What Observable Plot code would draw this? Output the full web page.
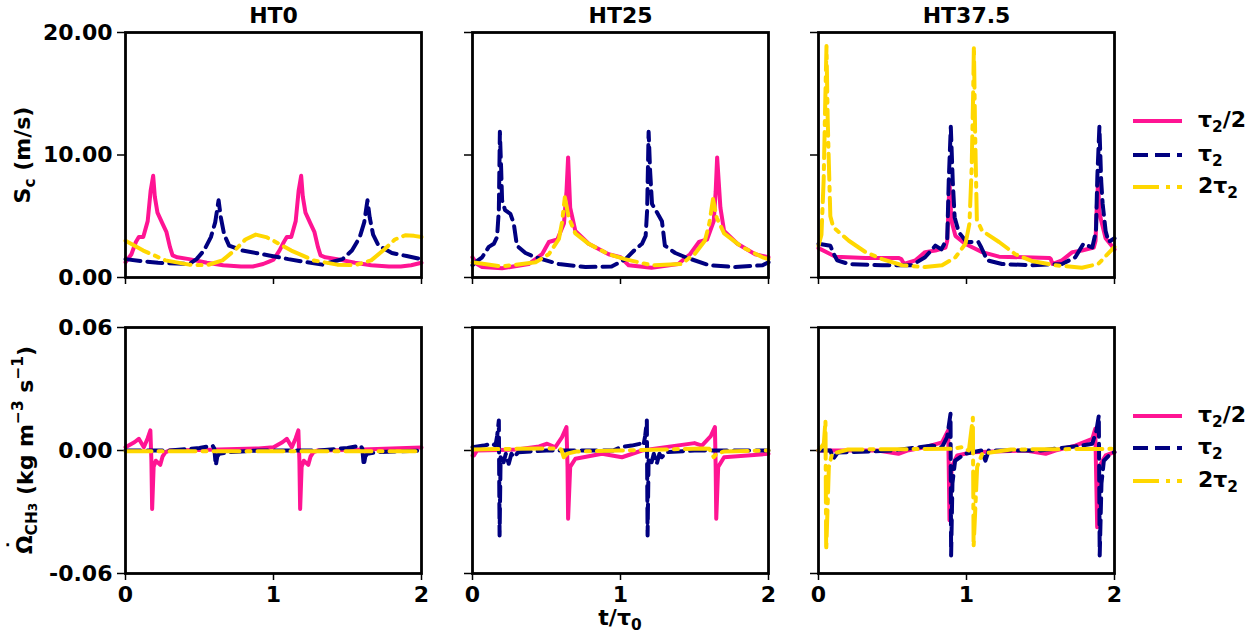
<!DOCTYPE html>
<html><head><meta charset="utf-8">
<script src="https://cdn.jsdelivr.net/npm/d3@7"></script>
<script src="https://cdn.jsdelivr.net/npm/@observablehq/plot@0.6"></script>
<style>
body{margin:0;background:#fff;}
#chart{position:relative;width:1260px;height:637px;font-family:"DejaVu Sans",sans-serif;font-weight:bold;color:#000;overflow:hidden;}
.panel{position:absolute;}
.panel svg{overflow:visible;}
.panel svg g[aria-label$="tick"] path, .panel svg .tick line{stroke-width:1.5px;}
.lbl{position:absolute;white-space:nowrap;font-size:22px;line-height:1;}
.sub{font-size:70%;vertical-align:-0.3em;}
.sup{font-size:70%;vertical-align:0.6em;}
.dotted{position:relative;display:inline-block;}
.dotted .dot{position:absolute;left:0;right:0;top:-0.42em;text-align:center;}
</style></head><body><div id="chart"></div><script>
// ---------- data ----------
const titles = ["HT0", "HT25", "HT37.5"];
const seriesNames = ["τ2/2", "τ2", "2τ2"];
const xTicks = [0, 1, 2];
const yTicksSc = [0, 10, 20];
const yTicksOm = [-0.06, 0, 0.06];

// S_c (m/s), HT0
const sc_ht0_half_t = [0, 0.04, 0.07, 0.09, 0.12, 0.15, 0.17, 0.187, 0.198, 0.216, 0.25, 0.277, 0.3, 0.318, 0.35, 0.43, 0.55, 0.66, 0.78, 0.86, 0.93, 0.97, 1.0, 1.04, 1.07, 1.09, 1.12, 1.15, 1.17, 1.187, 1.198, 1.216, 1.25, 1.277, 1.3, 1.318, 1.35, 1.43, 1.55, 1.66, 1.78, 1.86, 1.93, 2.0];
const sc_ht0_half_v = [1.25, 1.9, 2.9, 3.3, 3.3, 4.6, 7.1, 8.3, 6.6, 5.3, 4.4, 3.7, 2.5, 1.8, 1.65, 1.5, 1.2, 1.0, 0.9, 0.9, 1.1, 1.3, 1.45, 2.2, 2.9, 3.3, 3.3, 4.6, 7.1, 8.3, 6.6, 5.3, 4.4, 3.7, 2.5, 1.8, 1.65, 1.5, 1.2, 1.0, 0.9, 0.9, 1.0, 1.2];
const sc_ht0_one_t = [0, 0.1, 0.22, 0.43, 0.48, 0.53, 0.577, 0.606, 0.629, 0.644, 0.667, 0.70, 0.79, 0.97, 1.1, 1.2, 1.33, 1.466, 1.53, 1.583, 1.613, 1.635, 1.65, 1.673, 1.71, 1.8, 1.9, 2.0];
const sc_ht0_one_v = [1.5, 1.35, 1.2, 1.1, 1.5, 2.2, 3.3, 4.5, 6.3, 4.9, 3.5, 2.6, 2.2, 1.8, 1.5, 1.3, 1.05, 1.5, 2.2, 3.3, 4.5, 6.3, 4.9, 3.5, 2.6, 2.0, 1.75, 1.5];
const sc_ht0_two_t = [0, 0.12, 0.27, 0.43, 0.55, 0.655, 0.745, 0.81, 0.88, 0.95, 1.0, 1.12, 1.27, 1.43, 1.55, 1.66, 1.75, 1.82, 1.89, 1.95, 2.0];
const sc_ht0_two_v = [3.0, 2.2, 1.4, 1.05, 1.0, 1.4, 2.3, 3.1, 3.5, 3.3, 3.0, 2.2, 1.4, 1.05, 1.0, 1.4, 2.3, 3.1, 3.45, 3.4, 3.3];

// S_c (m/s), HT25
const sc_ht25_half_t = [0, 0.03, 0.065, 0.2, 0.38, 0.47, 0.516, 0.573, 0.618, 0.635, 0.646, 0.66, 0.695, 0.785, 0.92, 1.0, 1.03, 1.055, 1.21, 1.39, 1.47, 1.53, 1.585, 1.63, 1.643, 1.653, 1.675, 1.7, 1.79, 1.91, 2.0];
const sc_ht25_half_v = [1.65, 1.1, 0.85, 0.75, 1.1, 1.9, 2.9, 3.1, 4.4, 7.0, 9.8, 5.7, 3.8, 2.75, 1.9, 1.65, 1.3, 1.0, 0.8, 1.1, 1.9, 2.9, 3.1, 4.6, 7.0, 9.8, 5.7, 3.8, 2.75, 1.9, 1.65];
const sc_ht25_one_t = [0, 0.02, 0.065, 0.11, 0.144, 0.166, 0.178, 0.185, 0.194, 0.2, 0.22, 0.256, 0.279, 0.30, 0.358, 0.426, 0.583, 0.763, 0.94, 1.034, 1.1, 1.145, 1.17, 1.18, 1.19, 1.2, 1.213, 1.247, 1.28, 1.3, 1.37, 1.44, 1.6, 1.775, 1.96, 2.0];
const sc_ht25_one_v = [1.0, 1.25, 1.65, 2.5, 2.75, 3.3, 5.5, 11.9, 8.7, 6.3, 5.5, 5.2, 4.4, 2.6, 2.0, 1.65, 1.1, 0.85, 0.9, 1.5, 2.3, 2.75, 3.4, 5.5, 11.9, 8.7, 6.0, 5.3, 4.6, 2.6, 2.0, 1.65, 1.0, 0.85, 1.0, 1.25];
const sc_ht25_two_t = [0, 0.2, 0.426, 0.516, 0.584, 0.605, 0.624, 0.65, 0.695, 0.785, 0.92, 1.03, 1.21, 1.41, 1.5, 1.57, 1.6, 1.625, 1.65, 1.70, 1.82, 1.96, 2.0];
const sc_ht25_two_v = [1.25, 0.9, 1.25, 1.9, 3.15, 4.5, 6.55, 4.9, 3.6, 2.75, 1.9, 1.5, 1.0, 1.1, 1.9, 3.0, 4.4, 6.4, 4.9, 3.6, 2.5, 1.65, 1.5];

// S_c (m/s), HT37.5
const sc_ht375_half_t = [0, 0.115, 0.318, 0.54, 0.56, 0.577, 0.655, 0.72, 0.79, 0.858, 0.87, 0.876, 0.885, 0.895, 0.903, 0.925, 0.99, 1.106, 1.22, 1.56, 1.57, 1.58, 1.645, 1.715, 1.78, 1.86, 1.872, 1.877, 1.889, 1.897, 1.905, 1.94, 2.0];
const sc_ht375_half_v = [2.4, 1.7, 1.6, 1.6, 1.5, 1.1, 1.4, 2.07, 2.2, 2.45, 3.0, 4.9, 7.8, 5.5, 4.4, 3.4, 2.75, 2.07, 1.7, 1.6, 1.5, 1.1, 1.4, 2.07, 2.2, 2.45, 3.0, 4.9, 7.8, 5.5, 4.9, 3.2, 2.3];
const sc_ht375_one_t = [0, 0.08, 0.1, 0.126, 0.205, 0.43, 0.63, 0.72, 0.79, 0.83, 0.87, 0.88, 0.894, 0.907, 0.92, 0.948, 1.0, 1.08, 1.1, 1.14, 1.24, 1.44, 1.645, 1.735, 1.79, 1.85, 1.875, 1.884, 1.898, 1.91, 1.92, 1.94, 1.96, 2.0];
const sc_ht375_one_v = [2.75, 2.6, 2.0, 1.4, 1.1, 1.0, 1.0, 1.65, 2.6, 2.3, 3.2, 7.9, 12.3, 7.9, 4.9, 3.7, 2.9, 2.9, 2.45, 1.4, 1.1, 1.0, 1.1, 1.65, 2.75, 2.45, 3.8, 8.2, 12.3, 7.9, 6.0, 3.8, 2.9, 3.2];
const sc_ht375_two_t = [0, 0.02, 0.035, 0.045, 0.054, 0.062, 0.07, 0.08, 0.10, 0.205, 0.318, 0.43, 0.565, 0.72, 0.835, 0.925, 0.993, 1.02, 1.035, 1.045, 1.05, 1.058, 1.07, 1.106, 1.22, 1.33, 1.44, 1.6, 1.78, 1.89, 2.0];
const sc_ht375_two_v = [2.6, 3.5, 8.0, 14.0, 18.9, 13.0, 9.3, 5.0, 4.1, 3.0, 2.07, 1.5, 1.0, 0.85, 1.0, 1.65, 2.75, 4.4, 9.0, 15.0, 18.9, 12.0, 4.7, 3.8, 2.9, 1.9, 1.35, 1.0, 0.8, 1.1, 2.5];

// Omega_CH3 (kg m^-3 s^-1), HT0
const om_ht0_half_t = [0, 0.06, 0.09, 0.124, 0.15, 0.168, 0.175, 0.18, 0.19, 0.205, 0.235, 0.25, 0.27, 0.3, 0.5, 0.9, 1.0, 1.06, 1.09, 1.124, 1.15, 1.168, 1.175, 1.18, 1.19, 1.205, 1.235, 1.25, 1.27, 1.3, 1.5, 2.0];
const om_ht0_half_v = [0.0016, 0.004, 0.0057, 0.0016, 0.006, 0.0098, -0.005, -0.0285, -0.008, -0.005, -0.007, -0.003, -0.0008, 0, 0.0002, 0.001, 0.0016, 0.004, 0.0057, 0.0016, 0.006, 0.0098, -0.005, -0.0285, -0.008, -0.005, -0.007, -0.003, -0.0008, 0, 0.0002, 0.0015];
const om_ht0_one_t = [0, 0.3, 0.5, 0.588, 0.6, 0.61, 0.62, 0.633, 0.7, 0.9, 1.0, 1.3, 1.5, 1.588, 1.6, 1.61, 1.62, 1.633, 1.7, 2.0];
const om_ht0_one_v = [0, 0, 0.0012, 0.0024, 0.001, -0.0073, -0.003, -0.0016, -0.0008, 0, 0, 0, 0.0012, 0.0024, 0.001, -0.0073, -0.003, -0.0016, -0.0008, 0];
const om_ht0_two_t = [0, 0.5, 1.0, 1.5, 2.0];
const om_ht0_two_v = [-0.0004, -0.0004, -0.0004, -0.0004, -0.0004];

// Omega_CH3, HT25
const om_ht25_half_t = [0, 0.01, 0.03, 0.3, 0.45, 0.504, 0.56, 0.605, 0.635, 0.642, 0.646, 0.66, 0.695, 0.875, 1.01, 1.145, 1.5, 1.55, 1.61, 1.638, 1.643, 1.647, 1.66, 1.7, 2.0];
const om_ht25_half_v = [-0.0024, -0.0024, 0, 0.0005, 0.002, 0.0033, 0.0016, 0.0065, 0.0114, -0.008, -0.0333, -0.008, -0.004, -0.0016, -0.0033, 0, 0.0036, 0.0024, 0.007, 0.0114, -0.008, -0.0333, -0.008, -0.0033, -0.0016];
const om_ht25_one_t = [0, 0.076, 0.133, 0.155, 0.167, 0.178, 0.183, 0.19, 0.21, 0.225, 0.245, 0.263, 0.279, 0.31, 0.5, 0.95, 1.0, 1.076, 1.133, 1.155, 1.167, 1.178, 1.183, 1.19, 1.21, 1.225, 1.245, 1.263, 1.279, 1.31, 1.5, 2.0];
const om_ht25_one_v = [0.0016, 0.0024, 0.0033, 0.0024, 0.0073, 0.0146, -0.0415, -0.0033, -0.0057, -0.0016, -0.0065, -0.0016, -0.0033, -0.0008, 0, 0, 0.0016, 0.0024, 0.0033, 0.0024, 0.0073, 0.0146, -0.0415, -0.0033, -0.0057, -0.0016, -0.0065, -0.0016, -0.0033, -0.0008, 0, 0];
const om_ht25_two_t = [0, 0.3, 0.55, 0.6, 0.617, 0.64, 0.7, 1.0, 1.3, 1.55, 1.6, 1.63, 1.65, 1.7, 2.0];
const om_ht25_two_v = [0.0005, 0.0008, 0.001, 0.0005, -0.0033, -0.0015, -0.0005, 0, 0.0005, 0.001, 0.0008, -0.0033, -0.0015, -0.0005, 0];

// Omega_CH3, HT37.5
const om_ht375_half_t = [0, 0.4, 0.54, 0.6, 0.72, 0.835, 0.876, 0.88, 0.885, 0.9, 0.937, 1.04, 1.4, 1.535, 1.6, 1.735, 1.85, 1.87, 1.875, 1.883, 1.894, 1.94, 2.0];
const om_ht375_half_v = [0, 0, -0.0016, 0, 0.0016, 0.004, 0.0098, -0.008, -0.034, -0.008, -0.0024, -0.0008, 0, -0.0016, 0, 0.0024, 0.0057, 0.0106, -0.008, -0.0374, -0.008, -0.0024, -0.0008];
const om_ht375_one_t = [0, 0.08, 0.1, 0.13, 0.5, 0.77, 0.835, 0.869, 0.892, 0.896, 0.905, 0.923, 0.99, 1.1, 1.128, 1.15, 1.5, 1.78, 1.85, 1.878, 1.894, 1.9, 1.912, 1.928, 1.985, 2.0];
const om_ht375_one_v = [0, 0, -0.004, -0.001, 0, 0.0024, 0.0016, 0.0065, 0.0179, -0.0512, -0.016, -0.005, -0.0016, 0, -0.005, 0, 0, 0.0024, 0.0033, 0.0098, 0.017, -0.0512, -0.016, -0.005, -0.0008, -0.0008];
const om_ht375_two_t = [0, 0.036, 0.047, 0.052, 0.07, 0.092, 0.2, 0.9, 0.97, 1.016, 1.043, 1.048, 1.072, 1.106, 1.3, 1.98];
const om_ht375_two_v = [0, 0.0033, 0.0146, -0.0488, -0.008, -0.0016, 0.0005, 0.0008, 0.0016, 0.0, 0.016, -0.047, -0.008, -0.0016, 0.0005, 0.0008];

// ---------- styles ----------
const colors = ["#FF1493", "#000080", "#FFD700"];
const dashes = [null, "15,7", "26,7,4,7"];
const LW = 4;

const rows = (t, v) => t.map((d, i) => ({t: d, v: v[i]}));
const panels = [
  [[sc_ht0_half_t, sc_ht0_half_v], [sc_ht0_one_t, sc_ht0_one_v], [sc_ht0_two_t, sc_ht0_two_v]],
  [[sc_ht25_half_t, sc_ht25_half_v], [sc_ht25_one_t, sc_ht25_one_v], [sc_ht25_two_t, sc_ht25_two_v]],
  [[sc_ht375_half_t, sc_ht375_half_v], [sc_ht375_one_t, sc_ht375_one_v], [sc_ht375_two_t, sc_ht375_two_v]],
  [[om_ht0_half_t, om_ht0_half_v], [om_ht0_one_t, om_ht0_one_v], [om_ht0_two_t, om_ht0_two_v]],
  [[om_ht25_half_t, om_ht25_half_v], [om_ht25_one_t, om_ht25_one_v], [om_ht25_two_t, om_ht25_two_v]],
  [[om_ht375_half_t, om_ht375_half_v], [om_ht375_one_t, om_ht375_one_v], [om_ht375_two_t, om_ht375_two_v]]
];

// ---------- layout ----------
const chart = document.getElementById("chart");
const colLeft = [125, 472, 818];
const rowTop = [32, 327];
const PW = 296, PH = [245, 246];
const mL = 100, mR = 12, mT = 42, mB = 45;
const fmt2 = d => d.toFixed(2);

for (let row = 0; row < 2; row++) {
  for (let col = 0; col < 3; col++) {
    const data = panels[row * 3 + col];
    const marks = [];
    if (row === 0) marks.push(Plot.text([titles[col]], {text: d => d, frameAnchor: "top", dy: -16.5, lineAnchor: "middle", fontSize: 22, fontWeight: "bold"}));
    data.forEach(([t, v], k) => {
      const o = {x: "t", y: "v", stroke: colors[k], strokeWidth: LW, strokeLinejoin: "round"};
      if (dashes[k]) o.strokeDasharray = dashes[k];
      marks.push(Plot.line(rows(t, v), o));
    });
    marks.push(Plot.frame({stroke: "black", strokeWidth: 2.8}));
    const svg = Plot.plot({
      width: mL + PW + mR, height: mT + PH[row] + mB,
      marginLeft: mL, marginRight: mR, marginTop: mT, marginBottom: mB,
      x: {domain: [0, 2], ticks: xTicks, tickSize: 7, tickPadding: 6, label: null,
          tickFormat: row === 1 ? d3.format("d") : () => ""},
      y: {domain: row === 0 ? [0, 20] : [-0.06, 0.06], ticks: row === 0 ? yTicksSc : yTicksOm,
          tickSize: 8, tickPadding: 5, label: null, tickFormat: col === 0 ? fmt2 : () => ""},
      style: {background: "transparent", fontFamily: "'DejaVu Sans', sans-serif", fontSize: "22px", fontWeight: "bold", color: "black", overflow: "visible"},
      marks
    });
    const div = document.createElement("div");
    div.className = "panel";
    div.style.left = (colLeft[col] - mL) + "px";
    div.style.top = (rowTop[row] - mT) + "px";
    div.style.width = (mL + PW + mR) + "px";
    div.appendChild(svg);
    chart.appendChild(div);
  }
}

// ---------- axis labels ----------
function label(html, x, y, rotate) {
  const d = document.createElement("div");
  d.className = "lbl";
  d.innerHTML = html;
  d.style.left = x + "px";
  d.style.top = y + "px";
  d.style.transform = "translate(-50%,-50%)" + (rotate ? " rotate(-90deg)" : "");
  chart.appendChild(d);
}
label('S<span class="sub">c</span> (m/s)', 25, 155, true);
label('<span class="dotted">Ω<span class="dot">˙</span></span><span class="sub">CH<span style="font-size:80%">3</span></span> (kg m<span class="sup">−3</span> s<span class="sup">−1</span>)', 26, 450, true);
label('t/τ<span class="sub">0</span>', 620, 620, false);

// ---------- legends ----------
const legendHtml = ['τ<span class="sub">2</span>/2', 'τ<span class="sub">2</span>', '2τ<span class="sub">2</span>'];
const legendY = [[121, 155, 187], [416, 448, 481]];
legendY.forEach(ys => {
  ys.forEach((y, k) => {
    const s = d3.create("svg").attr("width", 52).attr("height", 10)
      .style("position", "absolute").style("left", "1132px").style("top", (y - 5) + "px");
    s.append("line").attr("x1", 1).attr("x2", 50).attr("y1", 5).attr("y2", 5)
      .attr("stroke", colors[k]).attr("stroke-width", LW)
      .attr("stroke-dasharray", dashes[k] || null);
    chart.appendChild(s.node());
    const t = document.createElement("div");
    t.className = "lbl";
    t.innerHTML = legendHtml[k];
    t.title = seriesNames[k];
    t.style.left = "1198px";
    t.style.top = (y - 12) + "px";
    chart.appendChild(t);
  });
});
</script></body></html>
